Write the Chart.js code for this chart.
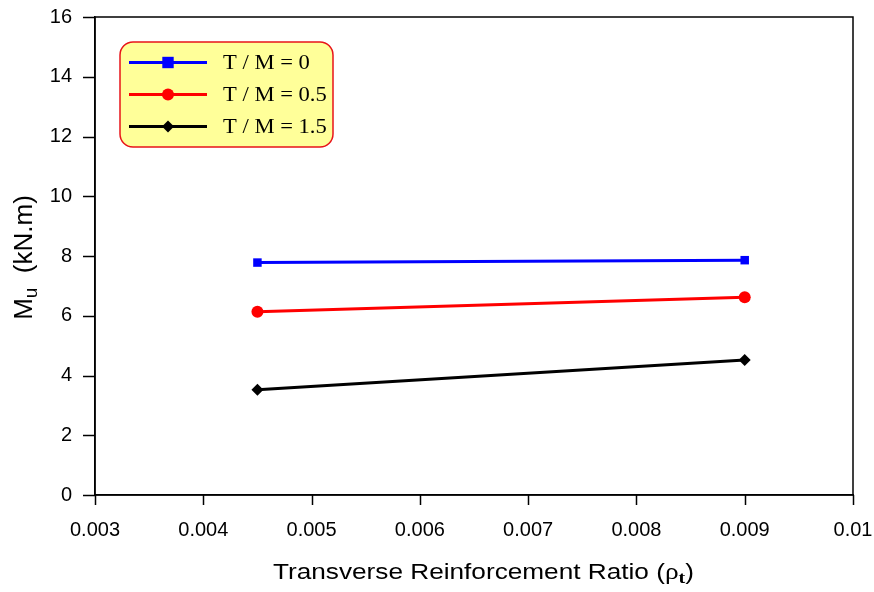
<!DOCTYPE html>
<html>
<head>
<meta charset="utf-8">
<script src="https://cdn.jsdelivr.net/npm/chart.js@4.4.1/dist/chart.umd.min.js"></script>
<style>
html,body{margin:0;padding:0;background:#fff;}
#wrap{width:874px;height:592px;}
</style>
</head>
<body>
<div id="wrap"><canvas id="c" width="874" height="592"></canvas></div>
<script>
// ---- data ----
const ratios = [0.0045, 0.009];
const seriesLabels = ['T / M = 0', 'T / M = 0.5', 'T / M = 1.5'];
const muTM0 = [7.78, 7.86];
const muTM05 = [6.13, 6.62];
const muTM15 = [3.52, 4.52];
const xTickLabels = ['0.003','0.004','0.005','0.006','0.007','0.008','0.009','0.01'];
const yTickLabels = ['0','2','4','6','8','10','12','14','16'];

const colors = ['#0000FF', '#FF0000', '#000000'];
const styles = ['rect', 'circle', 'rectRot'];
const radii = [6, 6, 6];
const values = [muTM0, muTM05, muTM15];

const datasets = values.map((v, i) => ({
  label: seriesLabels[i],
  data: ratios.map((x, j) => ({x: x, y: v[j]})),
  borderColor: colors[i],
  backgroundColor: colors[i],
  borderWidth: 3,
  pointStyle: styles[i],
  pointRadius: radii[i],
  pointBorderWidth: 0,
  pointBackgroundColor: colors[i],
  pointBorderColor: colors[i],
  tension: 0
}));

function drawMarker(ctx, style, x, y, r, color) {
  ctx.save();
  ctx.fillStyle = color;
  ctx.beginPath();
  if (style === 'rect') {
    const s = r * 0.95;
    ctx.rect(x - s, y - s, 2 * s, 2 * s);
  } else if (style === 'circle') {
    ctx.arc(x, y, r, 0, Math.PI * 2);
  } else {
    ctx.moveTo(x, y - r); ctx.lineTo(x + r, y); ctx.lineTo(x, y + r); ctx.lineTo(x - r, y); ctx.closePath();
  }
  ctx.fill();
  ctx.restore();
}

// draw text parts horizontally stretched by sx, centered at cx
function drawParts(ctx, parts, cx, base, sx) {
  let total = 0;
  parts.forEach(p => { ctx.font = p.f; p.w = ctx.measureText(p.t).width; total += p.w; });
  ctx.save();
  ctx.translate(cx, base);
  ctx.scale(sx, 1);
  let x = -total / 2;
  parts.forEach(p => { ctx.font = p.f; ctx.fillText(p.t, x, p.dy); x += p.w; });
  ctx.restore();
}

const decor = {
  id: 'decor',
  beforeDatasetsDraw(chart) {
    const {ctx, chartArea: a} = chart;
    ctx.save();
    ctx.strokeStyle = '#000';
    ctx.lineWidth = 1.5;
    ctx.strokeRect(a.left, a.top, a.right - a.left, a.bottom - a.top);
    // tick marks
    const xs = chart.scales.x, ys = chart.scales.y;
    ctx.beginPath();
    xs.ticks.forEach((t, i) => {
      const px = Math.round(xs.getPixelForTick(i)) + 0.5;
      ctx.moveTo(px, a.bottom); ctx.lineTo(px, a.bottom + 10);
    });
    ys.ticks.forEach((t, i) => {
      const py = Math.round(ys.getPixelForTick(i)) + 0.5;
      ctx.moveTo(a.left, py); ctx.lineTo(a.left - 12, py);
    });
    ctx.stroke();
    ctx.restore();
  },
  afterDraw(chart) {
    const ctx = chart.ctx;
    // legend box
    ctx.save();
    const bx = 120, by = 42, bw = 213, bh = 105, br = 13;
    ctx.beginPath();
    ctx.roundRect(bx, by, bw, bh, br);
    ctx.fillStyle = '#FFFF99';
    ctx.fill();
    ctx.lineWidth = 1.5;
    ctx.strokeStyle = '#E8141A';
    ctx.stroke();
    const rowsY = [62.5, 94.5, 126.5];
    chart.data.datasets.forEach((ds, i) => {
      const y = rowsY[i];
      ctx.beginPath();
      ctx.moveTo(129, y); ctx.lineTo(207, y);
      ctx.strokeStyle = ds.borderColor;
      ctx.lineWidth = 3;
      ctx.stroke();
      drawMarker(ctx, ds.pointStyle, 168, y, ds.pointRadius, ds.borderColor);
      ctx.save();
      ctx.fillStyle = '#000';
      ctx.font = '20px "Liberation Serif", "Times New Roman", serif';
      ctx.textBaseline = 'middle';
      ctx.textAlign = 'left';
      ctx.translate(223, y + 1);
      ctx.scale(1.13, 1);
      ctx.fillText(ds.label, 0, 0);
      ctx.restore();
    });
    ctx.restore();

    // x axis title
    ctx.save();
    ctx.fillStyle = '#000';
    ctx.textBaseline = 'alphabetic';
    const f1 = '22px "Liberation Sans", Arial, sans-serif';
    drawParts(ctx, [
      {t: 'Transverse Reinforcement Ratio (', f: f1, dy: 0},
      {t: '\u03C1', f: '23px "Liberation Serif", "Times New Roman", serif', dy: 0},
      {t: 't', f: 'bold 17px "Liberation Serif", "Times New Roman", serif', dy: 4},
      {t: ')', f: f1, dy: 0}
    ], 483.5, 579, 1.19);
    ctx.restore();

    // y axis title (rotated)
    ctx.save();
    ctx.translate(32, 257.5);
    ctx.rotate(-Math.PI / 2);
    ctx.fillStyle = '#000';
    ctx.textBaseline = 'alphabetic';
    drawParts(ctx, [
      {t: 'M', f: '26px "Liberation Sans", Arial, sans-serif', dy: 0},
      {t: 'u', f: '19px "Liberation Sans", Arial, sans-serif', dy: 5},
      {t: '  (kN.m)', f: '26px "Liberation Sans", Arial, sans-serif', dy: 0}
    ], 0, 0, 1);
    ctx.restore();
  }
};

new Chart(document.getElementById('c'), {
  type: 'line',
  data: { datasets: datasets },
  options: {
    responsive: false,
    animation: false,
    devicePixelRatio: 1,
    layout: { padding: { top: 17, right: 21, left: 0, bottom: 0 } },
    plugins: { legend: { display: false }, tooltip: { enabled: false }, title: { display: false } },
    scales: {
      x: {
        type: 'linear',
        min: 0.003, max: 0.01,
        ticks: {
          stepSize: 0.001,
          color: '#000',
          font: { family: '"Liberation Sans", Arial, sans-serif', size: 20 },
          padding: 0,
          maxRotation: 0,
          callback: (v, i) => xTickLabels[i]
        },
        grid: { drawOnChartArea: false, tickLength: 23, tickColor: 'rgba(0,0,0,0)' },
        border: { color: '#000', width: 1.5 },
        afterFit: s => { s.height = 97; }
      },
      y: {
        min: 0, max: 16,
        ticks: {
          stepSize: 2,
          color: '#000',
          font: { family: '"Liberation Sans", Arial, sans-serif', size: 20 },
          padding: 0,
          callback: (v, i) => yTickLabels[i]
        },
        grid: { drawOnChartArea: false, tickLength: 23, tickColor: 'rgba(0,0,0,0)' },
        border: { color: '#000', width: 1.5 },
        afterFit: s => { s.width = 95; }
      }
    }
  },
  plugins: [decor]
});
</script>
</body>
</html>
